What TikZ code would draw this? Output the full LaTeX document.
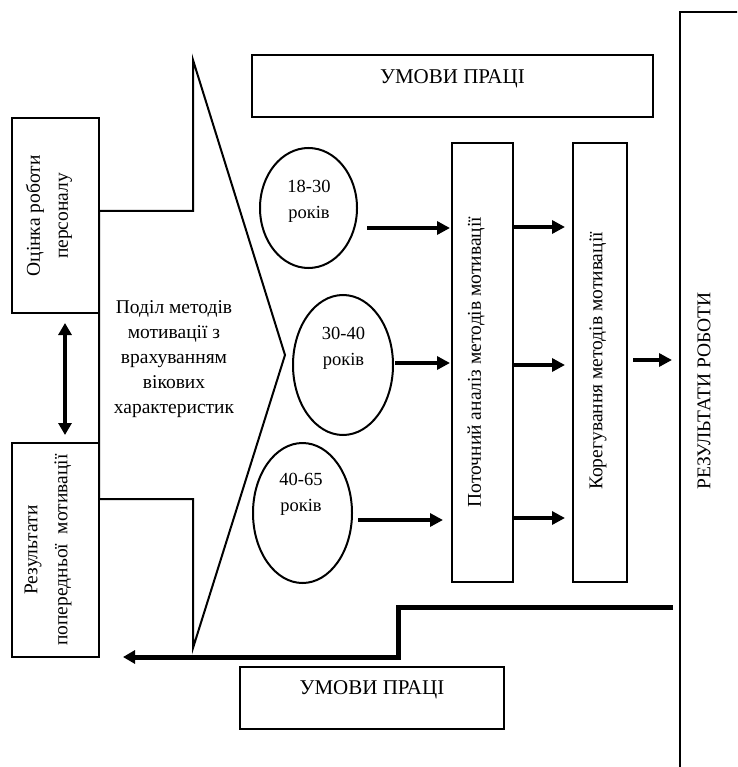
\documentclass[tikz,border=0pt]{standalone}
\usepackage{fontspec}
\setmainfont{Liberation Serif}
\usetikzlibrary{arrows.meta,shapes.geometric,calc}
\begin{document}
\begin{tikzpicture}[x=1pt,y=-1pt,
  boxline/.style={draw,line width=2pt,inner sep=0pt,outer sep=0pt},
  oval/.style={ellipse,draw,line width=2pt,inner sep=0pt,outer sep=0pt},
  lbl/.style={font=\fontsize{19.5}{28}\selectfont,align=center,inner sep=0pt},
  olbl/.style={font=\fontsize{18.5}{26}\selectfont,align=center,inner sep=0pt},
  hlbl/.style={font=\fontsize{21}{25}\selectfont,inner sep=0pt,anchor=base},
  arr/.style={line width=4pt,-{Triangle[length=13pt,width=13pt]}},
  dblarr/.style={line width=4pt,{Triangle[length=12pt,width=13pt]}-{Triangle[length=12pt,width=13pt]}},
]
\useasboundingbox (0,0) rectangle (737,767);
\clip (0,0) rectangle (737,767);

% left boxes
\node[boxline,minimum width=87pt,minimum height=195pt] (ocin) at (55.5,215.5) {};
\node[lbl,rotate=90] (ocint) at (49,216) {Оцінка роботи\\персоналу};
\node[boxline,minimum width=87pt,minimum height=214pt] (rez) at (55.5,550) {};
\node[lbl,font=\fontsize{19.5}{30}\selectfont,rotate=90] (rezt) at (48,550) {Результати\\попередньої\ \ мотивації};

% big arrow shape
\draw[line width=2pt,line join=miter] (99,211) -- (193,211) -- (193,60) -- (285,355) -- (193,648) -- (193,499) -- (99,499) -- cycle;
\node[lbl,font=\fontsize{19.5}{25}\selectfont] (podil) at (174,359) {Поділ методів\\мотивації з\\врахуванням\\вікових\\характеристик};

% double arrow
\draw[dblarr] ([xshift=9.5pt,yshift=-10pt]ocin.south) -- ([xshift=9.5pt,yshift=8pt]rez.north);

% top and bottom condition boxes
\node[boxline,minimum width=401pt,minimum height=62pt] (top) at (452.5,86) {};
\node[hlbl] (topt) at (452.5,84) {УМОВИ ПРАЦІ};
\node[boxline,minimum width=264pt,minimum height=62pt] (bot) at (372,698) {};
\node[hlbl] (bott) at (372,694) {УМОВИ ПРАЦІ};

% ellipses
\node[oval,minimum width=97pt,minimum height=120pt] (e1) at (308.5,208) {};
\node[olbl] (e1t) at (309,201) {18-30\\років};
\node[oval,minimum width=100pt,minimum height=140pt] (e2) at (343,365) {};
\node[olbl] (e2t) at (343.5,348) {30-40\\років};
\node[oval,minimum width=99pt,minimum height=140pt] (e3) at (302.5,513) {};
\node[olbl] (e3t) at (301,494) {40-65\\років};

% middle boxes
\node[boxline,minimum width=61pt,minimum height=439pt] (b1) at (482.5,362.5) {};
\node[lbl,rotate=90] (b1t) at (476,362) {Поточний аналіз методів мотивації};
\node[boxline,minimum width=54pt,minimum height=439pt] (b2) at (600,362.5) {};
\node[lbl,rotate=90] (b2t) at (598,361) {Корегування методів мотивації};

% results box (runs off the page)
\node[boxline,line width=2.4pt,minimum width=120pt,minimum height=800pt,anchor=north west] (res) at (680,12) {};
\node[lbl,rotate=90] (rest) at (704,391) {РЕЗУЛЬТАТИ РОБОТИ};

% arrows ellipses -> b1
\draw[arr,shorten >=2pt] ([xshift=10pt,yshift=-20pt]e1.east) -- ([yshift=-20pt]e1.east -| b1.west);
\draw[arr,shorten >=2pt] ([xshift=2pt,yshift=2pt]e2.east) -- ([yshift=2pt]e2.east -| b1.west);
\draw[arr,shorten >=9pt] ([xshift=6pt,yshift=-7pt]e3.east) -- ([yshift=-7pt]e3.east -| b1.west);

% arrows b1 -> b2
\coordinate (r1) at (0,227);
\coordinate (r2) at (0,365);
\coordinate (r3) at (0,518);
\coordinate (r4) at (0,360);
\draw[arr,shorten >=8pt] (b1.east |- r1) -- (b2.west |- r1);
\draw[arr,shorten >=8pt] (b1.east |- r2) -- (b2.west |- r2);
\draw[arr,shorten >=8pt] (b1.east |- r3) -- (b2.west |- r3);
% b2 -> results
\draw[arr,shorten <=6pt,shorten >=8pt] (b2.east |- r4) -- (res.west |- r4);

% feedback step arrow
\coordinate (st1) at (398,607);
\coordinate (st2) at (398,657);
\draw[line width=5pt,line join=miter,-{Triangle[length=12pt,width=13pt]}] ([xshift=-7pt]res.west |- st1) -- (st1) -- (st2) -- ([xshift=24pt]rez.south east);
\end{tikzpicture}
\end{document}
